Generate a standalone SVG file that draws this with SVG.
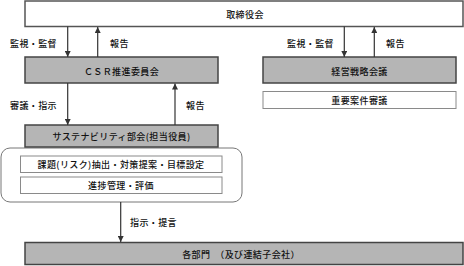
<svg xmlns="http://www.w3.org/2000/svg" width="464" height="266" viewBox="0 0 464 266">
<style>
text{font-family:"Noto Sans CJK JP","Noto Sans CJK SC",sans-serif;font-size:9px;font-weight:500;fill:#111;dominant-baseline:central;letter-spacing:0.4px}
.c{text-anchor:middle}
.dark{fill:#b5b5b5;stroke:#444;stroke-width:1.5}
.white{fill:#fff;stroke:#555;stroke-width:1.5}
.light{fill:#fff;stroke:#8a8a8a;stroke-width:1}
.group{fill:#fff;stroke:#777;stroke-width:1}
.con{stroke:#333;stroke-width:1.2;fill:none}
</style>
<defs>
<marker id="ah" viewBox="0 0 6 6" refX="6" refY="3" markerWidth="6" markerHeight="6" markerUnits="userSpaceOnUse" orient="auto">
<path d="M0,0 L6,3 L0,6 Z" fill="#333"/>
</marker>
</defs>
<g id="board"><rect class="white" x="25" y="1" width="438" height="25.5"/><text class="c" x="245" y="14">取締役会</text></g>
<g id="csr"><rect class="dark" x="25" y="57" width="193" height="26"/><text class="c" x="121.5" y="71">ＣＳＲ推進委員会</text></g>
<g id="strategy"><rect class="dark" x="263" y="57" width="193" height="26"/><text class="c" x="359.5" y="71">経営戦略会議</text></g>
<g id="important"><rect class="light" x="263" y="91.5" width="193" height="17"/><text class="c" x="359.5" y="100">重要案件審議</text></g>
<g id="sustain-group"><rect class="group" x="1" y="148" width="241" height="54" rx="9"/></g>
<g id="sustain"><rect class="dark" x="25" y="125" width="193" height="22"/><text class="c" x="121.5" y="136.5">サステナビリティ部会(担当役員)</text></g>
<g id="issues"><rect class="light" x="20.5" y="156" width="201.5" height="16.5"/><text class="c" x="121" y="164.5">課題(リスク)抽出・対策提案・目標設定</text></g>
<g id="progress"><rect class="light" x="20.5" y="177" width="201.5" height="16.5"/><text class="c" x="121" y="185.5">進捗管理・評価</text></g>
<g id="divisions"><rect class="dark" x="25" y="242.5" width="438" height="22"/><text class="c" x="241" y="254.5">各部門　（及び連結子会社）</text></g>
<g id="connectors">
<line class="con" x1="67.7" y1="26.5" x2="67.7" y2="57" marker-end="url(#ah)"/>
<line class="con" x1="97.7" y1="57" x2="97.7" y2="27" marker-end="url(#ah)"/>
<line class="con" x1="67.7" y1="83" x2="67.7" y2="125" marker-end="url(#ah)"/>
<line class="con" x1="175" y1="125" x2="175" y2="83.5" marker-end="url(#ah)"/>
<line class="con" x1="344.3" y1="26.5" x2="344.3" y2="57" marker-end="url(#ah)"/>
<line class="con" x1="374.3" y1="57" x2="374.3" y2="27" marker-end="url(#ah)"/>
<line class="con" x1="120.7" y1="202" x2="120.7" y2="242" marker-end="url(#ah)"/>
<text x="10" y="43">監視・監督</text>
<text x="110" y="43">報告</text>
<text x="10" y="105">審議・指示</text>
<text x="186" y="105">報告</text>
<text x="287" y="43">監視・監督</text>
<text x="386" y="43">報告</text>
<text x="130" y="222">指示・提言</text>
</g>
</svg>
